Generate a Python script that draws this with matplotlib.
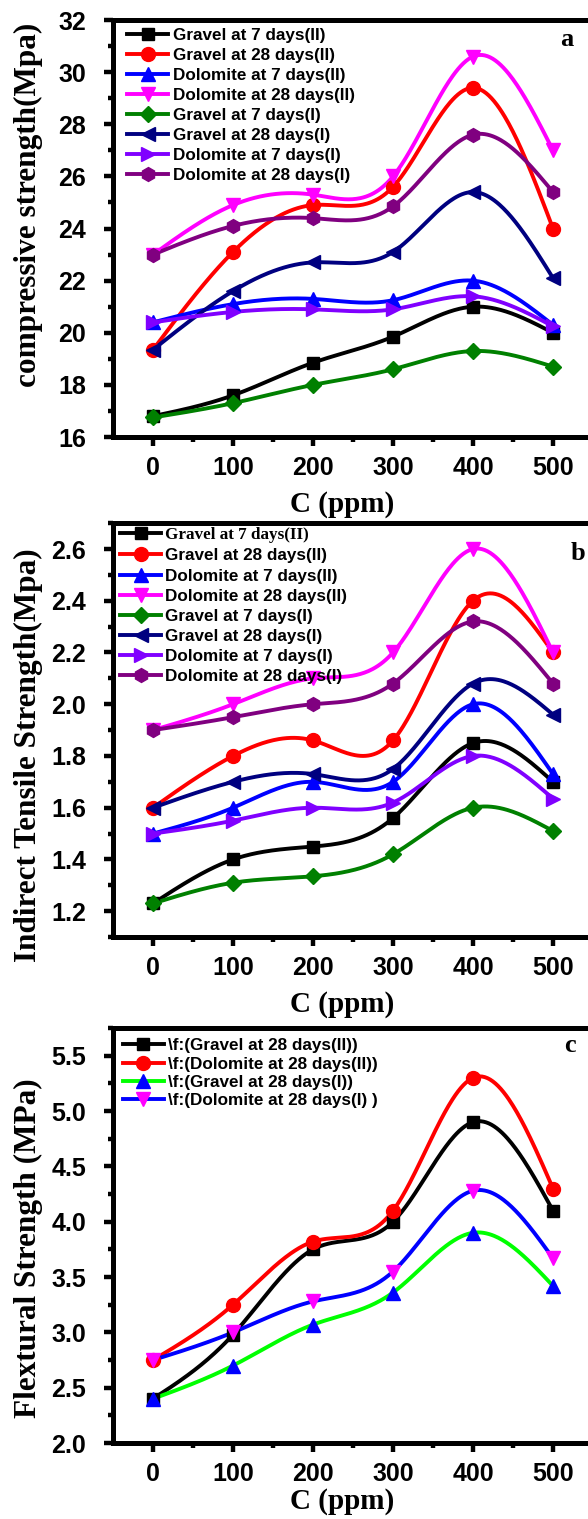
import numpy as np
import matplotlib.pyplot as plt
from matplotlib.lines import Line2D

conc = [0, 100, 200, 300, 400, 500]

# (a) compressive strength, MPa
comp_gravel_7_II = [16.8, 17.6, 18.85, 19.85, 21.0, 20.0]
comp_gravel_28_II = [19.35, 23.1, 24.9, 25.6, 29.4, 24.0]
comp_dolo_7_II = [20.4, 21.1, 21.3, 21.25, 22.0, 20.3]
comp_dolo_28_II = [23.0, 24.9, 25.3, 26.0, 30.6, 27.0]
comp_gravel_7_I = [16.75, 17.3, 18.0, 18.6, 19.3, 18.7]
comp_gravel_28_I = [19.35, 21.6, 22.7, 23.1, 25.4, 22.1]
comp_dolo_7_I = [20.4, 20.8, 20.9, 20.9, 21.4, 20.25]
comp_dolo_28_I = [23.0, 24.1, 24.4, 24.85, 27.6, 25.4]

# (b) indirect tensile strength, MPa
tens_gravel_7_II = [1.23, 1.40, 1.45, 1.56, 1.85, 1.70]
tens_gravel_28_II = [1.60, 1.80, 1.86, 1.86, 2.40, 2.20]
tens_dolo_7_II = [1.50, 1.60, 1.70, 1.70, 2.00, 1.73]
tens_dolo_28_II = [1.90, 2.00, 2.10, 2.20, 2.60, 2.20]
tens_gravel_7_I = [1.23, 1.31, 1.335, 1.42, 1.60, 1.51]
tens_gravel_28_I = [1.60, 1.70, 1.73, 1.75, 2.08, 1.96]
tens_dolo_7_I = [1.50, 1.55, 1.60, 1.62, 1.80, 1.635]
tens_dolo_28_I = [1.90, 1.95, 2.00, 2.08, 2.32, 2.08]

# (c) flexural strength, MPa
flex_gravel_28_II = [2.40, 2.98, 3.75, 4.00, 4.90, 4.10]
flex_dolo_28_II = [2.75, 3.25, 3.82, 4.10, 5.30, 4.30]
flex_gravel_28_I = [2.40, 2.70, 3.07, 3.36, 3.90, 3.42]
flex_dolo_28_I = [2.75, 3.00, 3.28, 3.55, 4.28, 3.67]

labels_ab = ["Gravel at 7 days(II)", "Gravel at 28 days(II)", "Dolomite at 7 days(II)",
             "Dolomite at 28 days(II)", "Gravel at 7 days(I)", "Gravel at 28 days(I)",
             "Dolomite at 7 days(I)", "Dolomite at 28 days(I)"]
labels_c = [r"\f:(Gravel at 28 days(II))", r"\f:(Dolomite at 28 days(II))",
            r"\f:(Gravel at 28 days(I))", r"\f:(Dolomite at 28 days(I) )"]

plt.rcParams['font.family'] = ['Liberation Sans', 'DejaVu Sans']
plt.rcParams['font.weight'] = 'bold'


def spline(x, y, n=300):
    # natural cubic spline through the points
    x = np.asarray(x, float)
    y = np.asarray(y, float)
    m = len(x)
    h = np.diff(x)
    A = np.zeros((m, m))
    b = np.zeros(m)
    A[0, 0] = A[-1, -1] = 1
    for i in range(1, m - 1):
        A[i, i - 1] = h[i - 1]
        A[i, i] = 2 * (h[i - 1] + h[i])
        A[i, i + 1] = h[i]
        b[i] = 6 * ((y[i + 1] - y[i]) / h[i] - (y[i] - y[i - 1]) / h[i - 1])
    M = np.linalg.solve(A, b)
    xs = np.linspace(x[0], x[-1], n)
    k = np.clip(np.searchsorted(x, xs) - 1, 0, m - 2)
    hk = x[k + 1] - x[k]
    t0 = x[k + 1] - xs
    t1 = xs - x[k]
    ys = (M[k] * t0**3 + M[k + 1] * t1**3) / (6 * hk) \
        + (y[k] / hk - M[k] * hk / 6) * t0 + (y[k + 1] / hk - M[k + 1] * hk / 6) * t1
    return xs, ys


def series(ax, y, lc, mk, mc, ms):
    xs, ys = spline(conc, y)
    ax.plot(xs, ys, color=lc, lw=2.8, solid_capstyle='round', zorder=2)
    ax.plot(conc, y, ls='none', marker=mk, color=mc, ms=ms, zorder=3)
    return Line2D([], [], color=lc, lw=2.8, marker=mk, mfc=mc, mec=mc, ms=ms)


def style(ax, ylim, major, minor, ylabel, ylab_y, xlab_y=-0.13):
    ax.set_xlim(-50, 550)
    ax.set_ylim(*ylim)
    ax.set_xticks(conc)
    ax.set_xticks([50, 150, 250, 350, 450], minor=True)
    ax.set_yticks(major)
    ax.set_yticks(minor, minor=True)
    for s in ax.spines.values():
        s.set_linewidth(3.6)
    ax.tick_params(which='major', direction='out', length=6.5, width=3.2,
                   labelsize=18, pad=7)
    ax.tick_params(axis='y', which='major', pad=13)
    ax.tick_params(which='minor', direction='out', length=3.5, width=3.2)
    ax.set_xlabel("C (ppm)", family='Liberation Serif', fontsize=21, weight='bold')
    ax.xaxis.set_label_coords(0.477, xlab_y)
    ax.set_ylabel(ylabel, family='Liberation Serif', fontsize=22.5, weight='bold')
    ax.yaxis.set_label_coords(-0.145, ylab_y)


fig = plt.figure(figsize=(5.88, 15.19), dpi=100)
axa = fig.add_axes([0.1922, 0.7123, 0.8163, 0.2745])
axb = fig.add_axes([0.1922, 0.3831, 0.8163, 0.2725])
axc = fig.add_axes([0.1922, 0.0500, 0.8163, 0.2732])

styles_ab = [('black', 's', 'black', 8), ('red', 'o', 'red', 10),
             ('blue', '^', 'blue', 10), ('magenta', 'v', 'magenta', 10),
             ('green', 'D', 'green', 8), ('navy', '<', 'navy', 10),
             ('#8000ff', '>', '#8000ff', 10), ('purple', 'h', 'purple', 10)]

comp = [comp_gravel_7_II, comp_gravel_28_II, comp_dolo_7_II, comp_dolo_28_II,
        comp_gravel_7_I, comp_gravel_28_I, comp_dolo_7_I, comp_dolo_28_I]
tens = [tens_gravel_7_II, tens_gravel_28_II, tens_dolo_7_II, tens_dolo_28_II,
        tens_gravel_7_I, tens_gravel_28_I, tens_dolo_7_I, tens_dolo_28_I]
flex = [flex_gravel_28_II, flex_dolo_28_II, flex_gravel_28_I, flex_dolo_28_I]
styles_c = [('black', 's', 'black', 8), ('red', 'o', 'red', 10),
            ('#00ff00', '^', 'blue', 10), ('blue', 'v', 'magenta', 10)]

leg_kw = dict(loc='upper left', frameon=False, fontsize=12.3, handlelength=2.4,
              handletextpad=0.25, borderpad=0, borderaxespad=0)

# a: compressive strength
h = [series(axa, y, *st) for y, st in zip(comp, styles_ab)]
axa.legend(h, labels_ab, bbox_to_anchor=(0.03, 0.98), labelspacing=0.29, **leg_kw)
style(axa, (16, 32), np.arange(16, 33, 2), np.arange(17, 32, 2),
      "compressive strength(Mpa)", 0.556)

# b: indirect tensile strength
h = [series(axb, y, *st) for y, st in zip(tens, styles_ab)]
leg = axb.legend(h, labels_ab, bbox_to_anchor=(0.015, 0.99), labelspacing=0.3,
                 **leg_kw)
leg.get_texts()[0].set_family('Liberation Serif')
style(axb, (1.1, 2.7), np.round(np.arange(1.2, 2.61, 0.2), 1),
      np.round(np.arange(1.1, 2.71, 0.2), 1),
      "Indirect Tensile Strength(Mpa)", 0.44)
axb.yaxis.set_major_formatter(plt.FormatStrFormatter('%.1f'))

# c: flexural strength
h = [series(axc, y, *st) for y, st in zip(flex, styles_c)]
axc.legend(h, labels_c, bbox_to_anchor=(0.02, 0.975), labelspacing=0.19, **leg_kw)
style(axc, (2.0, 5.75), np.arange(2.0, 5.6, 0.5), np.arange(2.25, 5.76, 0.5),
      "Flextural Strength (MPa)", 0.47, xlab_y=-0.108)
axc.yaxis.set_major_formatter(plt.FormatStrFormatter('%.1f'))

for x, y, s in [(567, 40, 'a'), (578, 553, 'b'), (570, 1045, 'c')]:
    fig.text(x / 588, 1 - y / 1519, s, family='Liberation Serif', fontsize=19,
             weight='bold', ha='center', va='center')

fig.savefig('out.png', dpi=100)
